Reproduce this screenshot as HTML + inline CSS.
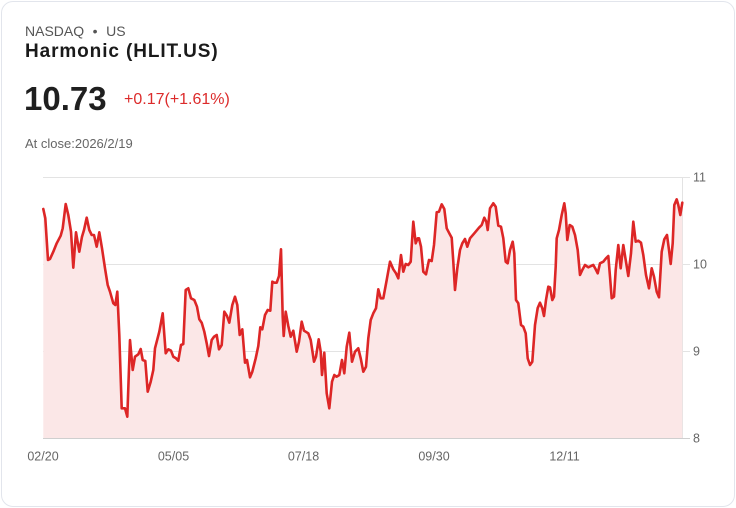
<!DOCTYPE html>
<html><head><meta charset="utf-8"><style>
*{margin:0;padding:0;box-sizing:border-box}
html,body{width:736px;height:508px;background:#fff;overflow:hidden}
.card{position:absolute;left:1px;top:1px;width:734px;height:506px;border:1px solid #e2e5ec;border-radius:12px;background:#fff}
.t{position:absolute;font-family:"Liberation Sans",Arial,sans-serif;white-space:nowrap}
</style></head><body>
<div class="card"></div>
<div class="t" style="left:25px;top:23px;font-size:14px;color:#555">NASDAQ<span style="display:inline-block;width:22px;text-align:center">•</span>US</div>
<div class="t" style="left:25px;top:41px;font-size:19px;font-weight:bold;color:#1a1a1a;letter-spacing:0.9px">Harmonic (HLIT.US)</div>
<div class="t" style="left:24px;top:80px;font-size:33px;font-weight:bold;color:#1f1f1f;letter-spacing:0px">10.73</div>
<div class="t" style="left:124px;top:91px;font-size:16px;color:#dc2b2b">+0.17(+1.61%)</div>
<div class="t" style="left:25px;top:136px;font-size:13px;color:#666">At close:2026/2/19</div>
<svg width="736" height="508" style="position:absolute;left:0;top:0" xmlns="http://www.w3.org/2000/svg">
<g stroke="#e3e3e3" stroke-width="1">
<line x1="43" y1="177.5" x2="690" y2="177.5"/>
<line x1="43" y1="264.5" x2="690" y2="264.5"/>
<line x1="43" y1="351.5" x2="690" y2="351.5"/>
<line x1="682.5" y1="177" x2="682.5" y2="438"/>
</g>
<polygon fill="#fbe7e7" points="43.3,438 43.3,209 45.3,218.3 48,260 50,259 53.3,251.7 56.7,243.3 60.7,235.7 62.7,228.3 65.7,204 68.3,215 71,231.7 73.3,267.7 76,232.3 79.3,251.7 82,236.7 84,230 86.7,217.7 89.3,230 91.7,235 94,235 96.7,246.7 99.3,232.3 102,248.3 105,268.3 107.7,285 110,291.7 113.3,303.3 115.3,305 117.3,291.7 119.3,335 121.7,408.3 125,408.3 127.3,416.7 130,340 132.7,370 135,356.7 138.3,354.3 140.7,349 142.7,360 145.3,361 147.7,391.7 150.7,381.7 153.3,370 155,348.3 159.3,331.7 162.7,313.3 165.7,353.3 168.3,349.3 171,350.7 173.3,356.7 176,358.3 178.3,360.7 181,345 183.3,344 185.7,290 188.3,288.3 191,298.3 194.3,300 197,306.7 199.3,319.3 201.7,322.7 204.3,331.7 206.7,343.3 209,356 211.7,340 214,336.7 216.7,335 219,349.3 221.7,345 224.3,311.7 227,316 229.3,322.7 232.3,305 235,296.7 237.3,305 239.7,335 242.3,329.3 245,362.7 247,360 250,377.3 252.3,371.7 255.7,358.3 258.3,346 260.3,327.3 262.3,329.3 265,315 267.7,310 270.3,310.7 272.3,281.7 274.3,282.7 276.7,282.7 279,276 281,249.3 282.7,316.7 283.7,336 285.7,311.7 288.3,326 290.7,336.7 293.3,330.7 296.7,351.7 299,341.7 301.7,321.7 304,330.7 308.3,333.3 310.7,340 314,361.7 316,356.7 318.7,339.3 320.7,351.7 322,375 324.3,352.7 326.7,393.3 329.3,408.3 332,381.7 334.3,375 336.7,376.7 339.3,375 342,360 344.3,373.3 346.7,346.7 349.3,332.7 352,361.7 355,351.7 358.3,348.3 360.7,358.3 363.3,371.7 366,366.7 368.3,338.3 370.7,320 373.3,313.3 376,308.3 378.3,289.3 380.7,298.3 383.3,298.3 386.7,280 390,261.7 393.3,269.3 396,273.3 398.3,278.3 401,255 403.3,271.7 405.7,264 408.3,265 410.7,261.7 413.3,221.7 415.7,243.3 417.7,238.3 419,238.3 421,246.7 423.3,271.7 426,274.3 429,260 431.7,261 434,245 436.7,212.3 439,211.7 441.7,204.3 444.3,209 446.7,228.3 449.3,233.3 451.7,237.7 453.3,261.7 455,290 457.3,268.3 460,250 462.3,243.3 465,239 467.3,246.7 470,238.3 474.3,233.3 479,227.7 481.7,225 484.3,217.7 486.3,221.7 487.7,230 490,208.3 493.3,203.3 495.7,206.7 498.3,225.7 501,226.7 503.3,238.3 505.7,261.7 507.7,263.3 510,250 512.7,241.7 514.3,253.3 516,300 518.3,303.3 521,325 523.3,326.7 525.7,333.3 527.7,358.3 530,365 532.3,361.7 535,325 537.7,308 540,302.7 542.3,308.3 544,316 546,300 548.3,286.7 550,287.3 552.3,300 554,296.7 555.7,266.7 556.7,238.3 559,230 561.7,215 564.3,203.3 565.7,213.3 567.3,240 569.7,225 572.3,226.7 575,235 577.7,250 580,275 582.3,270 585,265 588.3,267.3 591,266 593.3,265 595.7,269.3 597.7,273.3 600,263.3 603.3,261.7 606,258.3 608.3,256 610,276.7 611.7,298.3 614,296.7 615.7,270 618.3,245 620.7,268.3 623.3,245 625.7,260 628.3,276 631,253.3 633.3,221.7 635.7,241.7 638.3,240.7 641,242.7 643.3,255 646,275 649,288.3 651.7,268.3 654,276.7 656.7,291.7 659,297.3 661.7,251.7 664.3,239.3 667,235 669,250 670.7,264 672.7,243.3 674.3,205 676.7,199.3 678.3,205 680.3,215 682.3,202.7 682.3,438"/>
<polyline fill="none" stroke="#dd2626" stroke-width="2.6" stroke-linejoin="round" stroke-linecap="round" points="43.3,209 45.3,218.3 48,260 50,259 53.3,251.7 56.7,243.3 60.7,235.7 62.7,228.3 65.7,204 68.3,215 71,231.7 73.3,267.7 76,232.3 79.3,251.7 82,236.7 84,230 86.7,217.7 89.3,230 91.7,235 94,235 96.7,246.7 99.3,232.3 102,248.3 105,268.3 107.7,285 110,291.7 113.3,303.3 115.3,305 117.3,291.7 119.3,335 121.7,408.3 125,408.3 127.3,416.7 130,340 132.7,370 135,356.7 138.3,354.3 140.7,349 142.7,360 145.3,361 147.7,391.7 150.7,381.7 153.3,370 155,348.3 159.3,331.7 162.7,313.3 165.7,353.3 168.3,349.3 171,350.7 173.3,356.7 176,358.3 178.3,360.7 181,345 183.3,344 185.7,290 188.3,288.3 191,298.3 194.3,300 197,306.7 199.3,319.3 201.7,322.7 204.3,331.7 206.7,343.3 209,356 211.7,340 214,336.7 216.7,335 219,349.3 221.7,345 224.3,311.7 227,316 229.3,322.7 232.3,305 235,296.7 237.3,305 239.7,335 242.3,329.3 245,362.7 247,360 250,377.3 252.3,371.7 255.7,358.3 258.3,346 260.3,327.3 262.3,329.3 265,315 267.7,310 270.3,310.7 272.3,281.7 274.3,282.7 276.7,282.7 279,276 281,249.3 282.7,316.7 283.7,336 285.7,311.7 288.3,326 290.7,336.7 293.3,330.7 296.7,351.7 299,341.7 301.7,321.7 304,330.7 308.3,333.3 310.7,340 314,361.7 316,356.7 318.7,339.3 320.7,351.7 322,375 324.3,352.7 326.7,393.3 329.3,408.3 332,381.7 334.3,375 336.7,376.7 339.3,375 342,360 344.3,373.3 346.7,346.7 349.3,332.7 352,361.7 355,351.7 358.3,348.3 360.7,358.3 363.3,371.7 366,366.7 368.3,338.3 370.7,320 373.3,313.3 376,308.3 378.3,289.3 380.7,298.3 383.3,298.3 386.7,280 390,261.7 393.3,269.3 396,273.3 398.3,278.3 401,255 403.3,271.7 405.7,264 408.3,265 410.7,261.7 413.3,221.7 415.7,243.3 417.7,238.3 419,238.3 421,246.7 423.3,271.7 426,274.3 429,260 431.7,261 434,245 436.7,212.3 439,211.7 441.7,204.3 444.3,209 446.7,228.3 449.3,233.3 451.7,237.7 453.3,261.7 455,290 457.3,268.3 460,250 462.3,243.3 465,239 467.3,246.7 470,238.3 474.3,233.3 479,227.7 481.7,225 484.3,217.7 486.3,221.7 487.7,230 490,208.3 493.3,203.3 495.7,206.7 498.3,225.7 501,226.7 503.3,238.3 505.7,261.7 507.7,263.3 510,250 512.7,241.7 514.3,253.3 516,300 518.3,303.3 521,325 523.3,326.7 525.7,333.3 527.7,358.3 530,365 532.3,361.7 535,325 537.7,308 540,302.7 542.3,308.3 544,316 546,300 548.3,286.7 550,287.3 552.3,300 554,296.7 555.7,266.7 556.7,238.3 559,230 561.7,215 564.3,203.3 565.7,213.3 567.3,240 569.7,225 572.3,226.7 575,235 577.7,250 580,275 582.3,270 585,265 588.3,267.3 591,266 593.3,265 595.7,269.3 597.7,273.3 600,263.3 603.3,261.7 606,258.3 608.3,256 610,276.7 611.7,298.3 614,296.7 615.7,270 618.3,245 620.7,268.3 623.3,245 625.7,260 628.3,276 631,253.3 633.3,221.7 635.7,241.7 638.3,240.7 641,242.7 643.3,255 646,275 649,288.3 651.7,268.3 654,276.7 656.7,291.7 659,297.3 661.7,251.7 664.3,239.3 667,235 669,250 670.7,264 672.7,243.3 674.3,205 676.7,199.3 678.3,205 680.3,215 682.3,202.7"/>
<line x1="43" y1="438.5" x2="690" y2="438.5" stroke="#cfcfcf" stroke-width="1"/>
<g font-family="Liberation Sans, Arial, sans-serif" font-size="12.5" fill="#666">
<text x="693" y="181.5">11</text>
<text x="693" y="268.5">10</text>
<text x="693" y="355.5">9</text>
<text x="693" y="442.5">8</text>
<g text-anchor="middle">
<text x="43" y="460.5">02/20</text>
<text x="173.5" y="460.5">05/05</text>
<text x="303.5" y="460.5">07/18</text>
<text x="434" y="460.5">09/30</text>
<text x="564.5" y="460.5">12/11</text>
</g>
</g>
</svg>
</body></html>
